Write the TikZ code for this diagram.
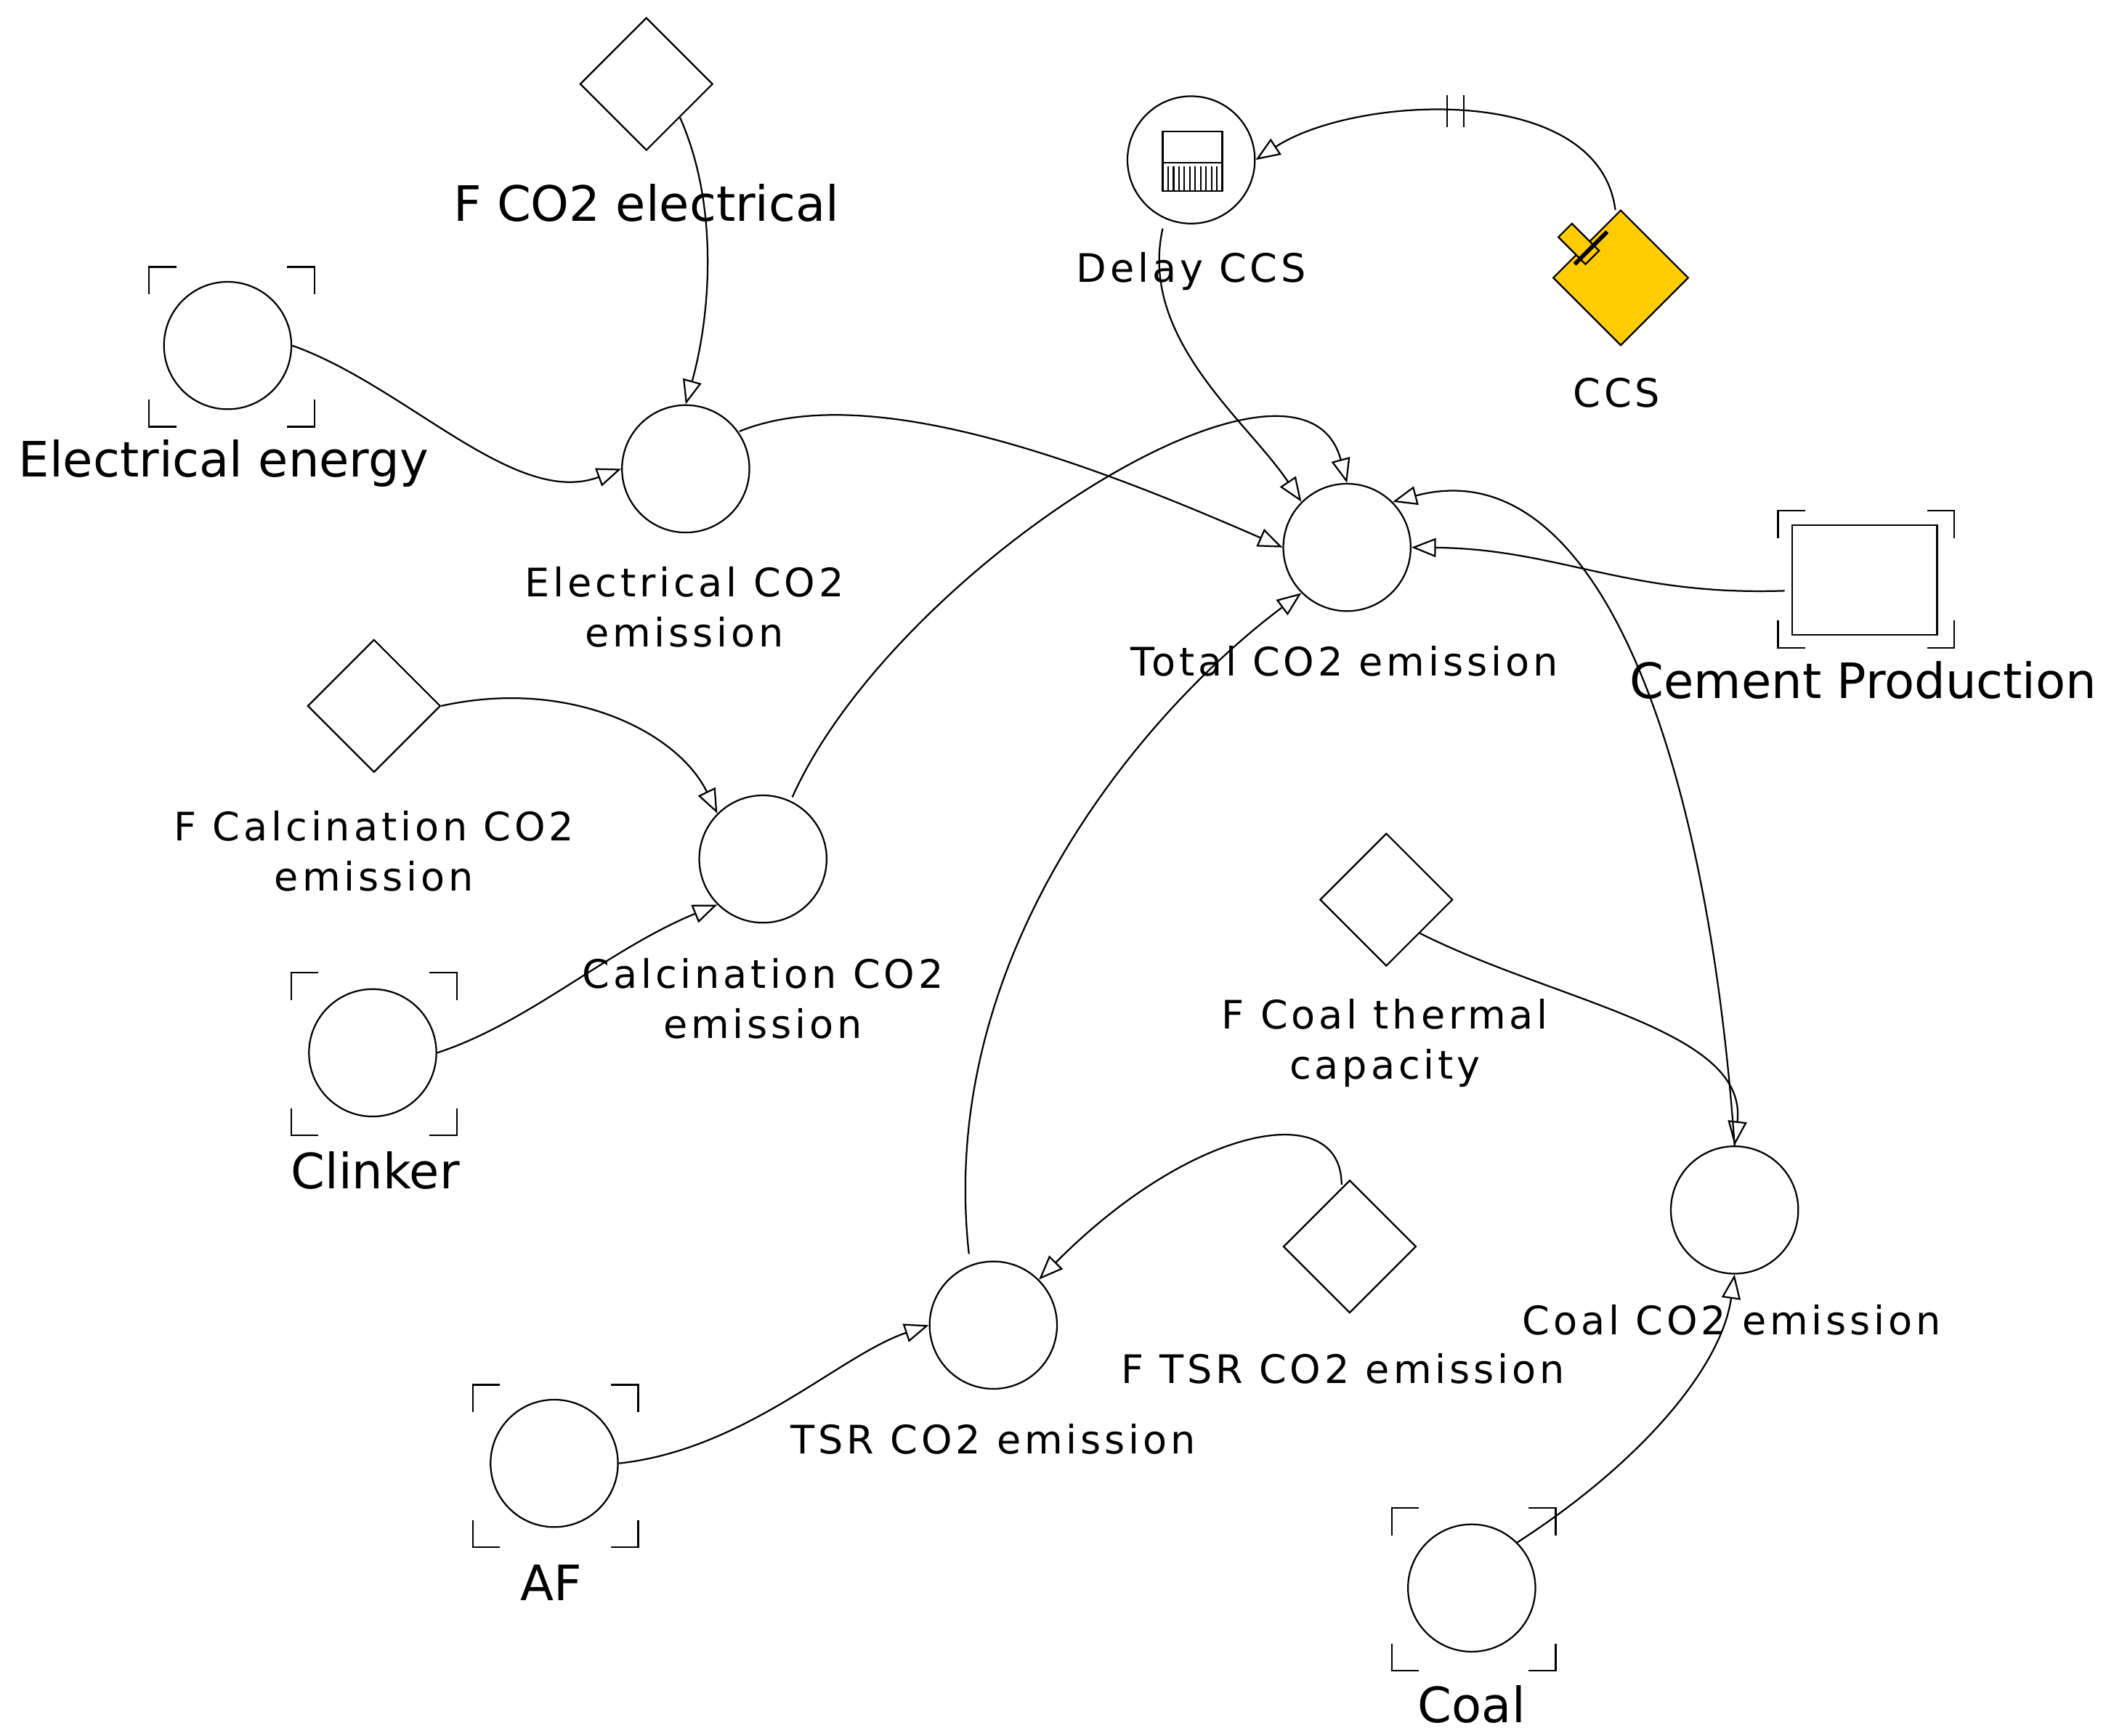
\documentclass[tikz,border=0pt]{standalone}
\usepackage{fontspec}
\setmainfont{DejaVu Sans}
\newfontfamily\spaced[LetterSpace=9]{DejaVu Sans}
\usetikzlibrary{shapes.geometric,arrows.meta}
\begin{document}
\begin{tikzpicture}[x=0.5pt,y=-0.5pt,line width=0.6pt,
  aux/.style={circle,draw,minimum size=47pt,inner sep=0pt},
  cst/.style={diamond,draw,minimum size=49pt,inner sep=0pt},
  big/.style={font=\fontsize{18}{20}\selectfont},
  sml/.style={font=\spaced\fontsize{14.5}{18.5}\selectfont,align=center},
  lnk/.style={-{Triangle[open,length=9pt,width=7pt]}}]
\useasboundingbox (0,0) rectangle (1560,1281);
\newcommand{\brk}[4]{%
 \draw (#1,#2+20)--(#1,#2)--(#1+20,#2);
 \draw (#3-20,#2)--(#3,#2)--(#3,#2+20);
 \draw (#1,#4-20)--(#1,#4)--(#1+20,#4);
 \draw (#3-20,#4)--(#3,#4)--(#3,#4-20);}
% nodes
\node[cst] (fce) at (477,62) {};
\node[big] at (477,150) {F CO2 electrical};
\node[aux] (ee) at (168,255) {}; \brk{110}{197}{232}{315}
\node[big] at (165,342) {Electrical energy};
\node[aux] (ec) at (506,346) {};
\node[sml] at (505,448) {Electrical CO2\\emission};
\node[aux] (tot) at (994,404) {};
\node[sml] at (992,488) {Total CO2 emission};
\node[aux] (dly) at (879,118) {};
\draw (858,97) rectangle (902,141);
\draw (858,120)--(902,120);
\foreach \i in {0,...,9} \draw (862+\i*4,123)--(862+\i*4,141);
\node[sml] at (879,200) {Delay CCS};
\node[cst,fill={rgb,255:red,255;green,204;blue,0},minimum size=50pt] (ccs) at (1196,205) {};
\draw[fill={rgb,255:red,255;green,204;blue,0}] (1150,175)--(1160,165)--(1180,185)--(1170,195)--cycle;
\draw[line width=1.5pt] (1162,195)--(1186,171);
\node[sml] at (1193,290) {CCS};
\node[draw,minimum width=53.5pt,minimum height=40.5pt,inner sep=0pt] (cem) at (1376,428) {};
\brk{1312}{377}{1442}{478}
\node[big] at (1375,502) {Cement Production};
\node[cst] (fca) at (276,521) {};
\node[sml] at (276,628) {F Calcination CO2\\emission};
\node[aux] (ca) at (563,634) {};
\node[sml] at (563,737) {Calcination CO2\\emission};
\node[aux] (cl) at (275,777) {}; \brk{215}{718}{337}{838}
\node[big] at (277,864) {Clinker};
\node[cst] (fco) at (1023,664) {};
\node[sml] at (1022,770) {F Coal thermal\\capacity};
\node[aux] (cc) at (1280,893) {};
\node[sml] at (1278,974) {Coal CO2 emission};
\node[cst] (ft) at (996,920) {};
\node[sml] at (991,1010) {F TSR CO2 emission};
\node[aux] (tsr) at (733,978) {};
\node[sml] at (733,1062) {TSR CO2 emission};
\node[aux] (af) at (409,1080) {}; \brk{349}{1022}{471}{1142}
\node[big] at (407,1168) {AF};
\node[aux] (coal) at (1086,1172) {}; \brk{1027}{1113}{1148}{1233}
\node[big] at (1086,1258) {Coal};
% links
\draw[lnk] (fce.south east) .. controls (530,150) and (525,230) .. (ec.north);
\draw[lnk] (ee.east) .. controls (300,285) and (380,375) .. (ec.west);
\draw[lnk] (ec.north east) ++(6,6) .. controls (640,280) and (800,340) .. (tot.west);
\draw[lnk] (ca.north east) ++(-12,-12) .. controls (660,420) and (960,230) .. (tot.north);
\draw[lnk] (fca.east) .. controls (420,500) and (500,540) .. (ca.north west);
\draw[lnk] (cl.east) .. controls (390,755) and (450,700) .. (ca.south west);
\draw[lnk] (dly.south) ++(-21,3) .. controls (840,250) and (920,310) .. (tot.north west);
\coordinate (ccsh) at (1192,155);
\draw[lnk] (ccsh) .. controls (1180,60) and (1000,70) .. (dly.east);
\draw (1068,70)--(1068,94) (1080,70)--(1080,94);
\draw[lnk] (cem.west) ++(-5,8) .. controls (1200,440) and (1150,405) .. (tot.east);
\draw[lnk] (cc.north) .. controls (1260,560) and (1180,330) .. (tot.north east);
\draw[lnk] (fco.south east) .. controls (1150,740) and (1290,760) .. (cc.north);
\draw[lnk] (tsr.north) ++(-18,-5) .. controls (690,700) and (850,520) .. (tot.south west);
\draw[lnk] (ft.north) ++(-6,4) .. controls (990,810) and (880,830) .. (tsr.north east);
\draw[lnk] (af.east) .. controls (550,1070) and (620,1000) .. (tsr.west);
\draw[lnk] (coal.north east) .. controls (1210,1080) and (1270,1010) .. (cc.south);
\end{tikzpicture}
\end{document}
